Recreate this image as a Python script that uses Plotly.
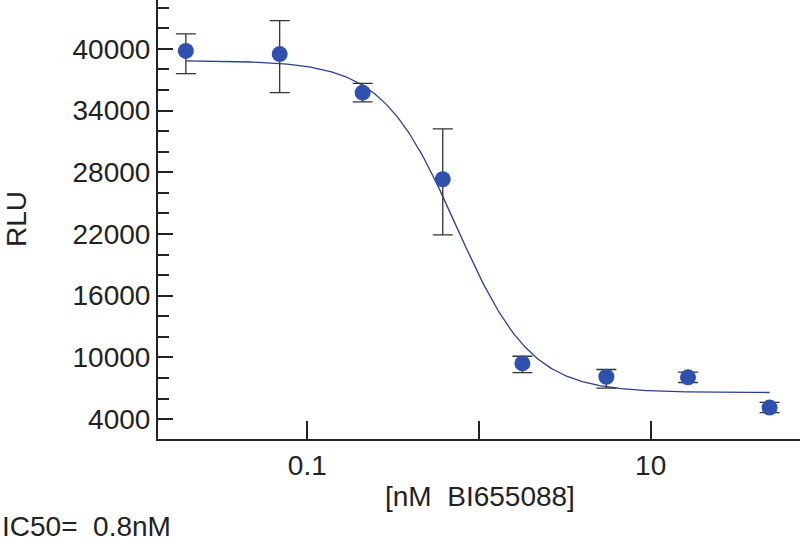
import numpy as np
import plotly.graph_objects as go

# Data
conc = [0.0196, 0.069, 0.21, 0.615, 1.79, 5.52, 16.5, 49.3]           # nM BI655088
rlu = [39800, 39490, 35740, 27320, 9410, 8120, 8060, 5120]
err_plus = [1650, 3250, 900, 4900, 700, 700, 500, 500]
err_minus = [2200, 3750, 900, 5400, 900, 1100, 500, 500]

# 4-parameter logistic fit parameters (as drawn)
fit_top = 38850
fit_bottom = 6580
fit_ic50 = 0.74
fit_hill = 2.0

ytickvals = [4000, 10000, 16000, 22000, 28000, 34000, 40000]
yticktext = ["4000", "10000", "16000", "22000", "28000", "34000", "40000"]
xtickvals = [0.1, 1, 10]
xticktext = ["0.1", "", "10"]

xf = np.logspace(np.log10(conc[0]), np.log10(conc[-1]), 300)
yf = fit_bottom + (fit_top - fit_bottom) / (1 + (xf / fit_ic50) ** fit_hill)

FONT = "Liberation Sans, Arial, sans-serif"
FS = 28
PLOT_W = 642
PLOT_H = 439

fig = go.Figure()
fig.add_trace(go.Scatter(x=xf, y=yf, mode="lines",
                         line=dict(color="#2b3f8f", width=1.3),
                         hoverinfo="skip", showlegend=False))
fig.add_trace(go.Scatter(x=conc, y=rlu, mode="markers",
                         marker=dict(size=16, color="#2f50ad"),
                         error_y=dict(type="data", symmetric=False,
                                      array=err_plus, arrayminus=err_minus,
                                      color="#333333", thickness=1.3, width=10),
                         showlegend=False))

fig.update_layout(
    width=800, height=546,
    margin=dict(l=158, r=0, t=0, b=107),
    paper_bgcolor="white", plot_bgcolor="white",
    font=dict(family=FONT, size=FS, color="#222222"),
)
fig.add_annotation(text="IC50=  0.8nM", xref="paper", yref="paper",
                   x=-158/PLOT_W, y=-(526-PLOT_H)/PLOT_H, xanchor="left", yanchor="middle",
                   showarrow=False, font=dict(size=FS, family=FONT, color="#222222"))
fig.add_annotation(text="[nM  BI655088]", xref="paper", yref="paper",
                   x=(480-158)/PLOT_W, y=-(496-PLOT_H)/PLOT_H, xanchor="center", yanchor="middle",
                   showarrow=False, font=dict(size=FS, family=FONT, color="#222222"))
fig.add_annotation(text="RLU", xref="paper", yref="paper", textangle=-90,
                   x=-(158-17)/PLOT_W, y=(PLOT_H-219)/PLOT_H, xanchor="center", yanchor="middle",
                   showarrow=False, font=dict(size=FS, family=FONT, color="#222222"))

fig.update_xaxes(type="log", range=[-1.87, 1.87], automargin=False,
                 tickvals=xtickvals, ticktext=xticktext,
                 ticks="inside", ticklen=18, tickwidth=2, tickcolor="#222222",
                 showline=True, linecolor="#222222", linewidth=2,
                 showgrid=False, zeroline=False,
                 tickfont=dict(size=FS, family=FONT))
fig.update_yaxes(range=[2064, 44750], automargin=False,
                 tickvals=ytickvals, ticktext=yticktext,
                 ticks="inside", ticklen=15, tickwidth=2, tickcolor="#222222",
                 minor=dict(tickvals=list(range(2000, 46000, 2000)), ticks="inside",
                            ticklen=11, tickwidth=2, tickcolor="#222222"),
                 showline=True, linecolor="#222222", linewidth=2,
                 showgrid=False, zeroline=False,
                 tickfont=dict(size=FS, family=FONT))

fig.write_html("out.html", config={"displayModeBar": False},
               post_script="document.body.style.margin='0';")
